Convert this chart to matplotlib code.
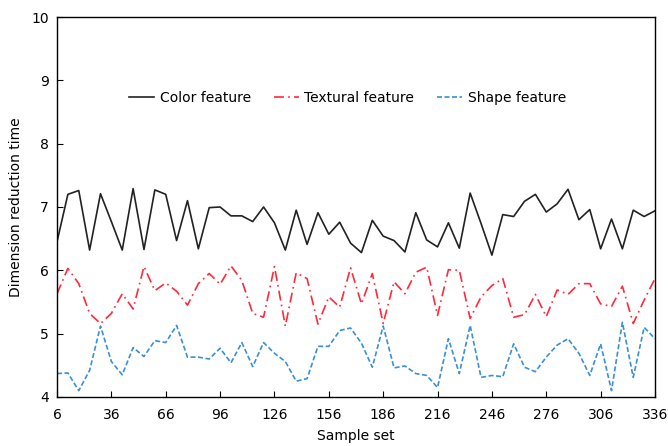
import matplotlib
matplotlib.use("Agg")
import matplotlib.pyplot as plt
import numpy as np

x = list(range(6, 337, 6))
color_feature = [6.45, 7.20, 7.26, 6.32, 7.21, 6.77, 6.32, 7.29, 6.33, 7.27,
                 7.20, 6.47, 7.10, 6.34, 6.99, 7.00, 6.86, 6.86, 6.77, 7.00,
                 6.75, 6.32, 6.95, 6.41, 6.91, 6.57, 6.76, 6.43, 6.28, 6.79,
                 6.54, 6.47, 6.29, 6.91, 6.48, 6.37, 6.75, 6.35, 7.22, 6.74,
                 6.24, 6.88, 6.85, 7.09, 7.20, 6.92, 7.05, 7.28, 6.80, 6.96,
                 6.34, 6.81, 6.34, 6.95, 6.85, 6.94]
textural_feature = [5.63, 6.03, 5.79, 5.32, 5.16, 5.32, 5.63, 5.39, 6.06, 5.68,
                    5.80, 5.67, 5.45, 5.79, 5.95, 5.78, 6.07, 5.84, 5.32, 5.26,
                    6.06, 5.12, 5.96, 5.87, 5.15, 5.58, 5.42, 6.04, 5.47, 5.95,
                    5.16, 5.82, 5.63, 5.97, 6.05, 5.29, 6.01, 6.00, 5.24, 5.58,
                    5.76, 5.87, 5.26, 5.30, 5.62, 5.27, 5.69, 5.62, 5.79, 5.79,
                    5.47, 5.43, 5.75, 5.16, 5.53, 5.87]
shape_feature = [4.37, 4.38, 4.10, 4.42, 5.12, 4.56, 4.35, 4.78, 4.64, 4.89,
                 4.86, 5.13, 4.63, 4.63, 4.60, 4.77, 4.54, 4.86, 4.48, 4.86,
                 4.69, 4.56, 4.25, 4.29, 4.80, 4.80, 5.05, 5.09, 4.85, 4.47,
                 5.12, 4.46, 4.49, 4.37, 4.34, 4.15, 4.92, 4.37, 5.13, 4.31,
                 4.34, 4.32, 4.84, 4.47, 4.40, 4.63, 4.82, 4.92, 4.69, 4.34,
                 4.84, 4.10, 5.18, 4.31, 5.10, 4.92]
xticks = list(range(6, 337, 30))
yticks = [4, 5, 6, 7, 8, 9, 10]

plt.rcParams['font.family'] = ['DejaVu Sans']
fig = plt.figure(figsize=(6.68, 4.46), dpi=100)
ax = fig.add_axes([57/668, 49/446, 598/668, 380/446])

ax.plot(x, color_feature, color='#222222', lw=1.2, ls='-', label='Color feature')
ax.plot(x, textural_feature, color='#ff2a3a', lw=1.2, ls=(0, (6, 2.5, 1, 2.5)), label='Textural feature')
ax.plot(x, shape_feature, color='#3a8fd6', lw=1.2, ls=(0, (3, 1.5)), label='Shape feature')

ax.set_xlim(6, 336)
ax.set_ylim(4, 10)
ax.set_xticks(xticks)
ax.set_yticks(yticks)
ax.tick_params(axis='x', direction='in', labelsize=10, length=4, pad=8, top=False)
ax.tick_params(axis='y', direction='in', labelsize=10, length=4, pad=6, right=False)
for s in ax.spines.values():
    s.set_linewidth(1.0)
ax.set_xlabel('Sample set', fontsize=10, labelpad=5)
ax.set_ylabel('Dimension reduction time', fontsize=10, labelpad=6)

ax.legend(loc='center', bbox_to_anchor=(0.486, 0.787), ncol=3, frameon=False,
          fontsize=10, handlelength=1.8, columnspacing=1.65, handletextpad=0.4)

fig.savefig('out.png', dpi=100)
